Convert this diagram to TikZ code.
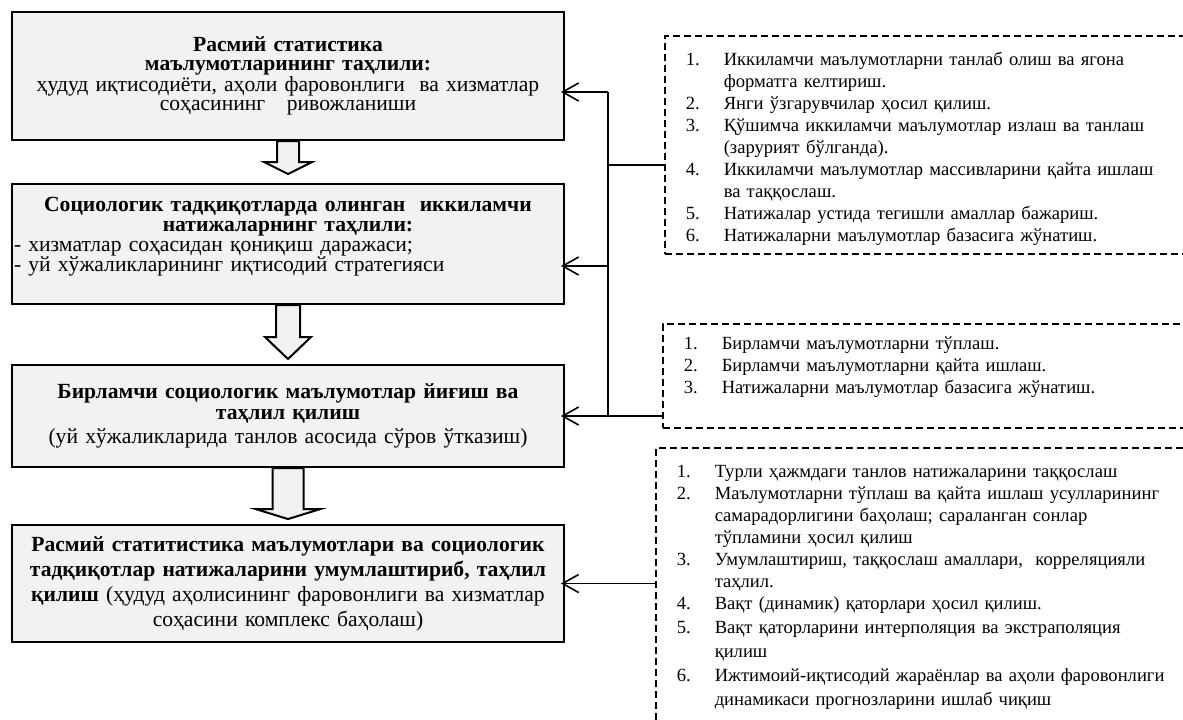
\documentclass[tikz,border=0pt]{standalone}
\usepackage{fontspec}
\setmainfont{Liberation Serif}
\usetikzlibrary{arrows.meta}
\definecolor{boxgray}{HTML}{F2F2F2}
% block arrow under a stage box: node, shaft half width, head half width, length, head length
\newcommand{\fatarrow}[5]{%
  \draw[bigarrow] (#1.south) ++(-#2,0) -- ++(0,#4-#5) -- ++(#2-#3,0) -- ++(#3,#5)
    -- ++(#3,-#5) -- ++(#2-#3,0) -- ++(0,#5-#4) -- cycle;}
\newcommand{\stepitem}[2]{\par\hangindent=19pt\hangafter=1\noindent\makebox[19pt][l]{#1}#2\par}

\begin{document}
\begin{tikzpicture}[x=0.5pt, y=-0.5pt,
    stage/.style={draw, line width=1pt, fill=boxgray, anchor=north west, text width=274pt,
      inner xsep=1pt, inner ysep=0pt, align=center, font=\fontsize{10.8}{10}\selectfont},
    steps/.style={draw, line width=0.75pt, dash pattern=on 3.5pt off 2pt, anchor=north west,
      text width=250pt, inner xsep=10.5pt, inner ysep=4pt, align=left, font=\fontsize{9.3}{11}\selectfont},
    conn/.style={line width=0.8pt, shorten >=-2pt, -{Straight Barb[length=8pt,width=9pt]}},
    bigarrow/.style={draw, line width=1pt, fill=boxgray}]
    \path[use as bounding box] (0,0) rectangle (1183,719);
    \clip (0,0) rectangle (1183,719);

    % stages
    \node[stage, minimum height=64pt, font=\fontsize{10.8}{9.3}\selectfont] (b1) at (11,11)
      {\textbf{Расмий статистика}\\ \textbf{маълумотларининг таҳлили:}\\
       ҳудуд иқтисодиёти, аҳоли фаровонлиги~ ва хизматлар\\ соҳасининг~~ ривожланиши};
    \node[stage, minimum height=60pt] (b2) at (11,183)
      {\textbf{Социологик тадқиқотларда олинган~ иккиламчи}\\ \textbf{натижаларнинг таҳлили:}\par
       \raggedright - хизматлар соҳасидан қониқиш даражаси;\\
       - уй хўжаликларининг иқтисодий стратегияси\par\noindent\rule{0pt}{5pt}};
    \node[stage, minimum height=51pt, font=\fontsize{10.8}{10.5}\selectfont] (b3) at (11,364)
      {\textbf{Бирламчи социологик маълумотлар йиғиш ва}\\ \textbf{таҳлил қилиш}\\[1.5pt]
       (уй хўжаликларида танлов асосида сўров ўтказиш)};
    \node[stage, minimum height=58.5pt, font=\fontsize{10.8}{12.5}\selectfont] (b4) at (11,524)
      {\textbf{Расмий статитистика маълумотлари ва социологик}\\
       \textbf{тадқиқотлар натижаларини умумлаштириб, таҳлил}\\
       \textbf{қилиш} (ҳудуд аҳолисининг фаровонлиги ва хизматлар\\ соҳасини комплекс баҳолаш)};

    \fatarrow{b1}{11}{24}{33}{12}
    \fatarrow{b2}{12}{23}{54}{22}
    \fatarrow{b3}{15.5}{32.5}{51}{10}

    % dashed lists
    \node[steps] (l1) at (664,35) {%
      \stepitem{1.}{Иккиламчи маълумотларни танлаб олиш ва ягона\newline форматга келтириш.}
      \stepitem{2.}{Янги ўзгарувчилар ҳосил қилиш.}
      \stepitem{3.}{Қўшимча иккиламчи маълумотлар излаш ва танлаш\newline (зарурият бўлганда).}
      \stepitem{4.}{Иккиламчи маълумотлар массивларини қайта ишлаш\newline ва таққослаш.}
      \stepitem{5.}{Натижалар устида тегишли амаллар бажариш.}
      \stepitem{6.}{Натижаларни маълумотлар базасига жўнатиш.}};
    \node[steps, inner ysep=2pt] (l2) at (662,323) {%
      \stepitem{1.}{Бирламчи маълумотларни тўплаш.}
      \stepitem{2.}{Бирламчи маълумотларни қайта ишлаш.}
      \stepitem{3.}{Натижаларни маълумотлар базасига жўнатиш.}
      \noindent\rule{0pt}{12pt}};
    \node[steps] (l3) at (655,447) {%
      \stepitem{1.}{Турли ҳажмдаги танлов натижаларини таққослаш}
      \stepitem{2.}{Маълумотларни тўплаш ва қайта ишлаш усулларининг\newline самарадорлигини баҳолаш; сараланган сонлар\newline тўпламини ҳосил қилиш}
      \stepitem{3.}{Умумлаштириш, таққослаш амаллари,~ корреляцияли\newline таҳлил.}
      \stepitem{4.}{Вақт (динамик) қаторлари ҳосил қилиш.}
      \baselineskip=12pt
      \stepitem{5.}{Вақт қаторларини интерполяция ва экстраполяция\newline қилиш}
      \stepitem{6.}{Ижтимоий-иқтисодий жараёнлар ва аҳоли фаровонлиги\newline динамикаси прогнозларини ишлаб чиқиш}
      \noindent\rule{0pt}{20pt}};

    % connectors
    \coordinate (bustop) at (608,92);
    \coordinate (busmid) at (608,266);
    \coordinate (feed) at (608,165);
    \draw[line width=0.8pt] (bustop) -- (bustop |- b3.east); % bus line
    \draw[line width=0.8pt] (feed) -- (feed -| l1.west);
    \draw[conn] (bustop) -- (bustop -| b1.east);
    \draw[conn] (busmid) -- (busmid -| b2.east);
    \draw[conn] (b3.east -| l2.west) -- (b3.east);
    \draw[conn] (b4.east -| l3.west) -- (b4.east);
\end{tikzpicture}
\end{document}
